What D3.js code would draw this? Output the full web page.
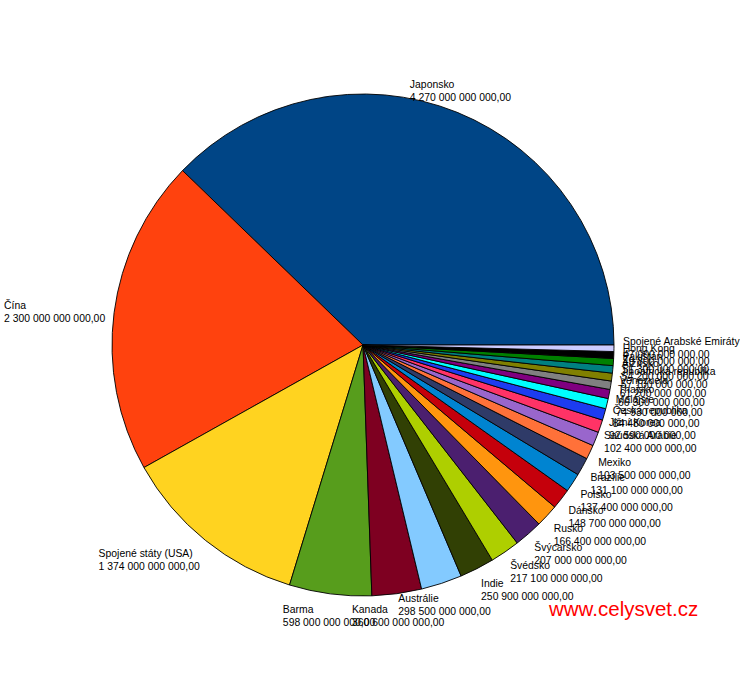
<!DOCTYPE html>
<html><head><meta charset="utf-8">
<script src="https://cdn.jsdelivr.net/npm/d3@7"></script>
<style>body{margin:0;background:#fff}svg{display:block}</style>
</head><body><svg id="c" width="740" height="700"></svg>
<script>
const countries = ["Japonsko","Čína","Spojené státy (USA)","Barma","Kanada","Austrálie","Indie","Švédsko","Švýcarsko","Rusko","Dánsko","Polsko","Brazílie","Mexiko","Saúdská Arábie","Jižní Korea","Česká republika","Malajsie","Thajsko","Venezuela","Jihoafrická republika","Alžírsko","Pakistán","Hong Kong","Spojené Arabské Emiráty (SAE)"];
const values = [4270000000000, 2300000000000, 1374000000000, 598000000000, 360600000000, 298500000000, 250900000000, 217100000000, 207000000000, 166400000000, 148700000000, 137400000000, 131100000000, 103500000000, 102400000000, 92590000000, 84480000000, 74930000000, 66300000000, 61200000000, 57100000000, 54200000000, 51300000000, 49800000000, 47000000000];
const colors = ["#004586","#ff420e","#ffd320","#579d1c","#7e0021","#83caff","#314004","#aecf00","#4b1f6f","#ff950e","#c5000b","#0084d1","#2f3b68","#ff7139","#9966cc","#ff3366","#1c3cf0","#00ffff","#800080","#808080","#808000","#008080","#008000","#000000","#ccccff"];
const watermark = "www.celysvet.cz";

const W = 740, H = 700, cx = 363, cy = 345, r = 251, labelR = 260;
const svg = d3.select("#c");
svg.append("rect").attr("width", W).attr("height", H).attr("fill", "#fff");

const data = countries.map((c, i) => ({name: c, value: values[i], color: colors[i]}));
const pie = d3.pie().value(d => d.value).sort(null)
  .startAngle(Math.PI / 2).endAngle(Math.PI / 2 - 2 * Math.PI);
const arcs = pie(data);
const arc = d3.arc().innerRadius(0).outerRadius(r);

const g = svg.append("g").attr("transform", `translate(${cx},${cy})`);
g.selectAll("path").data(arcs).join("path")
  .attr("d", arc)
  .attr("fill", d => d.data.color)
  .attr("stroke", "#000")
  .attr("stroke-width", 0.9)
  .attr("stroke-linejoin", "round");

const loc = d3.formatLocale({decimal: ",", thousands: " ", grouping: [3], currency: ["", ""]});
const fmt = loc.format(",.2f");

const font = "'Liberation Sans', Arial, sans-serif";
const fs = 10.4, lh = 13;
const lg = svg.append("g");
arcs.forEach(a => {
  const mid = (a.startAngle + a.endAngle) / 2;
  let th = Math.PI / 2 - mid;
  let deg = ((th * 180 / Math.PI) % 360 + 360) % 360;
  const px = cx + labelR * Math.cos(th), py = cy - labelR * Math.sin(th);
  const t = lg.append("g");
  const l1 = t.append("text").attr("x", 0).attr("y", 10).text(a.data.name);
  const l2 = t.append("text").attr("x", 0).attr("y", 10 + lh).text(fmt(a.data.value));
  t.selectAll("text").attr("font-family", font).attr("font-size", fs).attr("fill", "#000");
  const w = Math.max(l1.node().getComputedTextLength(), l2.node().getComputedTextLength());
  const h = 2 * lh;
  let x, y;
  if (deg >= 337.5 || deg <= 22.5) { x = px; y = py - h / 2; }
  else if (deg < 67.5) { x = px; y = py - h; }
  else if (deg < 112.5) { x = px - w / 2; y = py - h; }
  else if (deg <= 157.5) { x = px - w; y = py - h; }
  else if (deg <= 202.5) { x = px - w; y = py - h / 2; }
  else if (deg < 247.5) { x = px - w; y = py; }
  else if (deg < 292.5) { x = px - w / 2; y = py; }
  else { x = px; y = py; }
  t.attr("transform", `translate(${x},${y})`);
});

svg.append("text").attr("x", 549).attr("y", 616)
  .attr("font-family", font).attr("font-size", 20.5).attr("fill", "#ff0000")
  .text(watermark);
</script></body></html>
